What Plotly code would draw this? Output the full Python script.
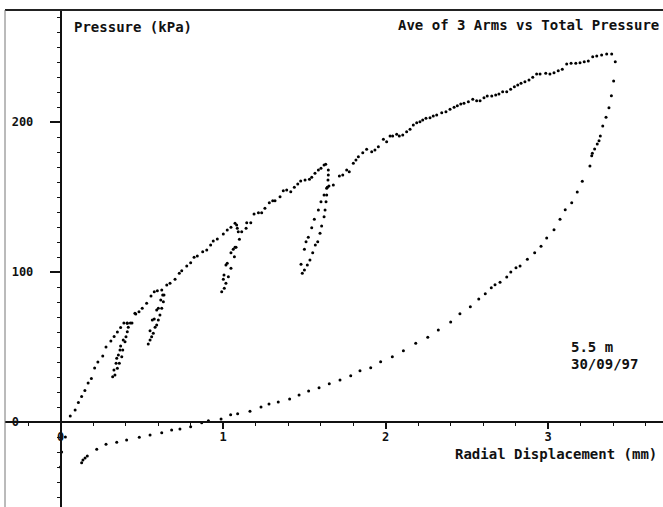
import plotly.graph_objects as go

# ---------------- data (radial displacement in mm, pressure in kPa) ----------------
initial_disp = [0.06, 0.09, 0.11, 0.13, 0.15, 0.17, 0.19, 0.21, 0.23, 0.26, 0.28, 0.31,
                0.33, 0.35, 0.37, 0.39, 0.41, 0.43, 0.44]
initial_pres = [4, 8, 13, 17, 21, 26, 29, 36, 40, 44, 50, 54, 57, 60, 63, 66, 66, 66, 66]

loop1_disp = [0.411, 0.417, 0.411, 0.403, 0.397, 0.383, 0.377, 0.362, 0.350, 0.335,
              0.321, 0.329, 0.342, 0.346, 0.356, 0.366, 0.370, 0.386]
loop1_pres = [65.8, 63.1, 60.2, 56.9, 53.5, 48, 43.5, 39.1, 35.8, 31.3,
              30.2, 34.7, 39.1, 42.5, 44.7, 48, 50.7, 54.7]

upper1_disp = [0.458, 0.463, 0.483, 0.503, 0.530, 0.557, 0.577, 0.596]
upper1_pres = [72.5, 72, 73.5, 75.8, 79.1, 84, 86.9, 87.5]

loop2_disp = [0.623, 0.637, 0.633, 0.623, 0.612, 0.602, 0.592, 0.582, 0.571, 0.561, 0.551, 0.540,
              0.551, 0.565, 0.577, 0.592, 0.602, 0.617, 0.629]
loop2_pres = [88, 84.7, 80.2, 75.8, 71.3, 68, 64.7, 63.1, 59.1, 56.9, 54.7, 52,
              60.9, 68, 68.7, 74.7, 75.8, 81.3, 84.7]

upper2_disp = [0.654, 0.674, 0.705, 0.731, 0.746, 0.777, 0.801, 0.822, 0.842, 0.875, 0.900,
               0.924, 0.940, 0.965, 1.002, 1.026, 1.049, 1.074, 1.084]
upper2_pres = [91.3, 92.5, 95.1, 99.1, 100.9, 104, 106.2, 109.8, 110.7, 113.5, 114.7,
               118, 120.7, 122, 125.3, 128, 129.8, 132.5, 131.3]

loop3_disp = [1.088, 1.094, 1.074, 1.070, 1.049, 1.033, 1.018, 1.008, 0.992,
              1.002, 1.006, 1.018, 1.026, 1.049, 1.063, 1.080, 1.101, 1.115, 1.142, 1.146]
loop3_pres = [129.1, 126.9, 116.5, 110.2, 102.5, 96.9, 92.5, 89.1, 86.9,
              95.1, 98, 104.7, 105.8, 112.9, 115.1, 116.5, 121.8, 126.9, 129.1, 132.9]

upper3_disp = [1.171, 1.191, 1.218, 1.238, 1.258, 1.285, 1.306, 1.320, 1.351, 1.371, 1.392,
               1.417, 1.439, 1.460, 1.478, 1.505, 1.532, 1.546, 1.566, 1.587, 1.603, 1.622, 1.632]
upper3_pres = [132.9, 138.7, 139.5, 139.5, 142.5, 146.2, 147.5, 147.5, 150.2, 154.2, 154.7,
               153.5, 156.5, 158.7, 160.7, 161.3, 161.8, 163.1, 165.8, 168, 169.1, 171.3, 171.8]

loop4_disp = [1.648, 1.648, 1.646, 1.642, 1.638, 1.634, 1.628, 1.622, 1.607, 1.597, 1.583,
              1.568, 1.552, 1.535, 1.519, 1.501, 1.488,
              1.480, 1.501, 1.511, 1.525, 1.546, 1.562, 1.587, 1.603, 1.622, 1.638, 1.652]
loop4_pres = [168, 164.7, 161.3, 156.5, 151.3, 146.9, 141.3, 136.9, 130.7, 125.8, 120.2,
              118, 112.9, 108, 104.7, 101.3, 99.1,
              105.1, 115.1, 120.2, 123.1, 129.5, 135.1, 141.3, 146.9, 151.3, 155.8, 157.3]

upper4_disp = [1.679, 1.716, 1.737, 1.761, 1.777, 1.802, 1.818, 1.833, 1.860, 1.884, 1.915,
               1.935, 1.956, 1.987, 2.007, 2.028, 2.044, 2.069, 2.085, 2.106, 2.130, 2.151,
               2.171, 2.192, 2.212, 2.229, 2.249, 2.274, 2.294, 2.315, 2.346, 2.372, 2.397,
               2.422, 2.442, 2.463, 2.483, 2.510, 2.537, 2.561, 2.582, 2.606, 2.626, 2.654,
               2.678, 2.698, 2.721, 2.746, 2.770, 2.793, 2.814, 2.834, 2.858, 2.883, 2.906,
               2.930, 2.951, 2.986, 3.012, 3.037, 3.063, 3.088, 3.115, 3.142, 3.171, 3.197,
               3.223, 3.248, 3.275, 3.300, 3.330, 3.361, 3.392]
upper4_pres = [158, 164, 164.7, 168, 166.9, 172.5, 174.7, 176.9, 179.5, 181.8, 180.2,
               181.3, 183.5, 188.5, 186.9, 190.7, 190.7, 191.8, 190.7, 191.3, 193.5, 195.1,
               198, 199.5, 200.2, 201.3, 202.5, 202.9, 204, 204.7, 206.2, 206.9, 208.5,
               209.8, 210.9, 212, 212.5, 213.5, 215.1, 214.2, 214.2, 216.2, 217.3, 217.3,
               218, 218.7, 220.2, 220.2, 221.8, 223.5, 224.7, 225.8, 226.9, 228, 229.8,
               232, 232, 232.5, 232, 232.9, 234.2, 235.1, 238.7, 239.1, 239.1, 239.5,
               240.2, 240.7, 243.5, 244, 244.7, 245.3, 245.3]

unload_disp = [3.414, 3.404, 3.390, 3.375, 3.357, 3.337, 3.322, 3.314, 3.303, 3.287, 3.273,
               3.269, 3.258, 3.211, 3.180, 3.146, 3.106, 3.074, 3.037, 2.992, 2.957, 2.918,
               2.873, 2.828, 2.803, 2.771, 2.746, 2.705, 2.674, 2.651, 2.614, 2.574, 2.522,
               2.458, 2.401, 2.325, 2.260, 2.186, 2.110, 2.042, 1.970, 1.909, 1.843, 1.786,
               1.720, 1.654, 1.591, 1.527, 1.468, 1.410, 1.340, 1.283, 1.234, 1.166, 1.090,
               1.047, 0.988, 0.910, 0.869, 0.801, 0.735, 0.684, 0.623, 0.551, 0.485, 0.407,
               0.346, 0.280, 0.223, 0.165, 0.151, 0.138, 0.130]
unload_pres = [240.2, 227.3, 217.5, 209.5, 203.1, 197.3, 190.7, 187.5, 185.3, 182, 179.1,
               177.5, 170.7, 160.5, 153.3, 146.2, 141.5, 135.1, 128.2, 122.7, 117.1, 112.9,
               108.5, 104, 102.9, 100, 96.7, 93.1, 91.5, 89.5, 85.5, 82, 76.9,
               72.2, 66.7, 61.3, 56.5, 52.5, 47.5, 43.5, 40.2, 36.2, 34.2, 30.9,
               28, 25.5, 22.9, 20.7, 18, 15.3, 13.3, 12, 10, 7.1, 5.5,
               4.9, 2, 0.9, -0.5, -3.1, -4.7, -5.3, -7.1, -8.7, -10.2, -12,
               -13.5, -14.9, -18.2, -22.7, -24, -25.3, -27.1]

rest_disp = [0.03, 0.007, 0.0]
rest_pres = [-10, -20, -30]

segments = [
    (initial_disp, initial_pres), (loop1_disp, loop1_pres), (upper1_disp, upper1_pres),
    (loop2_disp, loop2_pres), (upper2_disp, upper2_pres), (loop3_disp, loop3_pres),
    (upper3_disp, upper3_pres), (loop4_disp, loop4_pres), (upper4_disp, upper4_pres),
    (unload_disp, unload_pres), (rest_disp, rest_pres),
]

x_ticks = [0, 1, 2, 3]
x_ticktext = ["0", "1", "2", "3"]
y_ticks = [0, 100, 200]
y_ticktext = ["0\u00a0\u00a0", "100", "200"]

title_text = "Ave of 3 Arms vs Total Pressure"
y_title = "Pressure (kPa)"
x_title = "Radial Displacement (mm)"
note_lines = ["5.5 m", "30/09/97"]

# ---------------- figure ----------------
W, H = 663, 507
FONT = "DejaVu Sans Mono"
INK = "#111111"

fig = go.Figure()
for xs, ys in segments:
    fig.add_trace(go.Scatter(
        x=xs, y=ys, mode="markers",
        marker=dict(size=3, color="black", line=dict(width=0)),
        hoverinfo="skip", showlegend=False,
    ))

# pixel layout of the plotted frame
left_px, top_px = 5, 10
x0_px, px_per_mm = 60.5, 162.5
y0_px, px_per_kpa = 422, 1.5

x_range = [(left_px - x0_px) / px_per_mm, (W - x0_px) / px_per_mm]
y_range = [(y0_px - H) / px_per_kpa, (y0_px - top_px) / px_per_kpa]

fig.update_layout(
    width=W, height=H,
    margin=dict(l=0, r=0, t=0, b=0),
    paper_bgcolor="white", plot_bgcolor="white",
    showlegend=False,
    xaxis=dict(
        domain=[left_px / W, 1], range=x_range, anchor="free",
        position=(H - y0_px) / H,
        showline=True, linecolor=INK, linewidth=2,
        ticks="outside", tickvals=x_ticks, ticktext=x_ticktext,
        ticklen=6, tickwidth=1.5, tickcolor=INK,
        minor=dict(dtick=0.2, tick0=0, ticks="outside", ticklen=3, tickwidth=1, tickcolor=INK),
        showgrid=False, zeroline=False,
        ticklabelstandoff=-2,
        tickfont=dict(family=FONT, size=12, color=INK, weight="bold"),
    ),
    yaxis=dict(
        domain=[0, (H - top_px) / H], range=y_range, anchor="free",
        position=x0_px / W,
        showline=True, linecolor=INK, linewidth=1.5,
        ticks="outside", tickvals=y_ticks, ticktext=y_ticktext,
        ticklen=10, tickwidth=1.5, tickcolor=INK,
        minor=dict(dtick=10, tick0=0, ticks="outside", ticklen=3, tickwidth=1, tickcolor=INK),
        showgrid=False, zeroline=False,
        ticklabelstandoff=14,
        tickfont=dict(family=FONT, size=12, color=INK, weight="bold"),
    ),
)

# frame lines (top and left)
fig.add_shape(type="line", xref="paper", yref="paper",
              x0=left_px / W, x1=1, y0=(H - top_px) / H, y1=(H - top_px) / H,
              line=dict(color="#222222", width=2))
fig.add_shape(type="line", xref="paper", yref="paper",
              x0=left_px / W, x1=left_px / W, y0=0, y1=(H - top_px) / H,
              line=dict(color="#777777", width=1))

tfont = dict(family=FONT, size=14, color=INK, weight="bold")
fig.add_annotation(text=y_title, xref="paper", yref="paper", x=72 / W, y=(H - 27) / H,
                   xanchor="left", yanchor="middle", showarrow=False, font=tfont)
fig.add_annotation(text=title_text, xref="paper", yref="paper", x=661 / W, y=(H - 25) / H,
                   xanchor="right", yanchor="middle", showarrow=False, font=tfont)
fig.add_annotation(text=x_title, xref="paper", yref="paper", x=659 / W, y=(H - 454) / H,
                   xanchor="right", yanchor="middle", showarrow=False, font=tfont)
fig.add_annotation(text=note_lines[0], xref="paper", yref="paper", x=569 / W, y=(H - 347) / H,
                   xanchor="left", yanchor="middle", showarrow=False, font=tfont)
fig.add_annotation(text=note_lines[1], xref="paper", yref="paper", x=569 / W, y=(H - 364) / H,
                   xanchor="left", yanchor="middle", showarrow=False, font=tfont)

fig.write_html("out.html")
